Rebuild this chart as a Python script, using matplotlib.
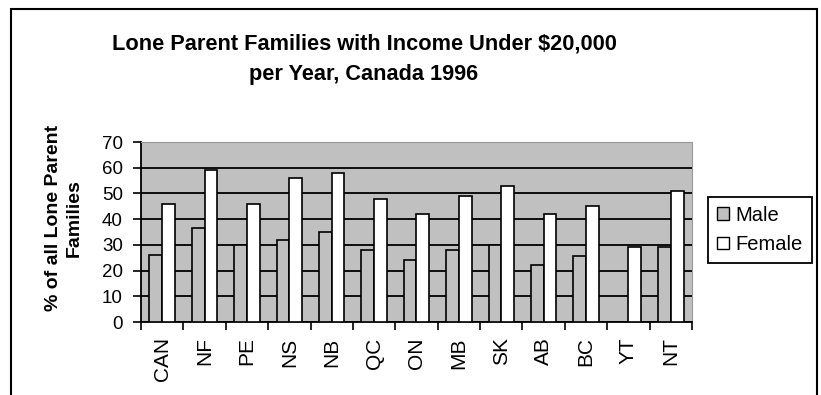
import numpy as np
import matplotlib
matplotlib.use("Agg")
import matplotlib.pyplot as plt
from matplotlib.patches import Rectangle, Patch

plt.rcParams['font.family'] = ['Liberation Sans', 'DejaVu Sans']

# values (% of all lone parent families)
regions = ['CAN', 'NF', 'PE', 'NS', 'NB', 'QC', 'ON', 'MB', 'SK', 'AB', 'BC', 'YT', 'NT']
male = [26, 36.5, 30, 32, 35, 28, 24, 28, 30, 22, 25.5, np.nan, 29.3]
female = [46, 59, 46, 56, 58, 48, 42, 49, 53, 42, 45, 29, 51]
yticks = [0, 10, 20, 30, 40, 50, 60, 70]

gray = '#c0c0c0'

fig = plt.figure(figsize=(8.21, 3.95), dpi=100)
ax = fig.add_axes([0.1717, 0.1848, 0.6712, 0.4557])
ax.set_facecolor(gray)

x = np.arange(len(regions))
w = 0.3
ax.bar(x - w / 2, male, w, color=gray, edgecolor='black', linewidth=1.2, zorder=3)
ax.bar(x + w / 2, female, w, color='white', edgecolor='black', linewidth=1.2, zorder=3)

ax.set_xlim(-0.5, len(regions) - 0.5)
ax.set_ylim(0, 70)
ax.set_yticks(yticks)
ax.yaxis.grid(True, color='black', linewidth=1.3, zorder=1)
ax.set_axisbelow(True)

# ticks at group boundaries, labels at centres
ax.set_xticks(np.arange(len(regions) + 1) - 0.5)
ax.set_xticklabels([])
ax.set_xticks(x, minor=True)
ax.set_xticklabels(regions, minor=True, rotation=90, fontsize=15)
ax.tick_params(axis='x', which='minor', length=0, pad=11)
ax.tick_params(axis='x', which='major', direction='out', length=6, width=1.2)
ax.tick_params(axis='y', direction='out', length=6, width=1.2, labelsize=13.5, pad=7)

for s in ['top', 'right']:
    ax.spines[s].set_color('#999999')
    ax.spines[s].set_linewidth(0.8)
for s in ['left', 'bottom']:
    ax.spines[s].set_color('black')
    ax.spines[s].set_linewidth(1.3)

fig.text(0.4434, 0.85, 'Lone Parent Families with Income Under $20,000\nper Year, Canada 1996',
         ha='center', va='center', fontsize=15.7, fontweight='bold', linespacing=1.55)
fig.text(0.0774, 0.448, '% of all Lone Parent\nFamilies', rotation=90, ha='center', va='center',
         fontsize=14, fontweight='bold', multialignment='center', linespacing=1.3)

handles = [Patch(facecolor=gray, edgecolor='black', label='Male'),
           Patch(facecolor='white', edgecolor='black', label='Female')]
leg = fig.legend(handles=handles, loc='center', bbox_to_anchor=(0.9257, 0.4177),
                 fontsize=14.5, fancybox=False, framealpha=1, edgecolor='black',
                 handlelength=0.6, handleheight=0.6, handletextpad=0.3,
                 labelspacing=0.5, borderpad=0.45, borderaxespad=0)
leg.get_frame().set_linewidth(1.3)

# outer chart frame (bottom edge falls outside the image)
fig.patches.append(Rectangle((11 / 821, -0.1), (817 - 11) / 821, 1.1 - 9 / 395,
                             transform=fig.transFigure, fill=False,
                             edgecolor='black', linewidth=1.5))

fig.savefig('out.png', dpi=100)
